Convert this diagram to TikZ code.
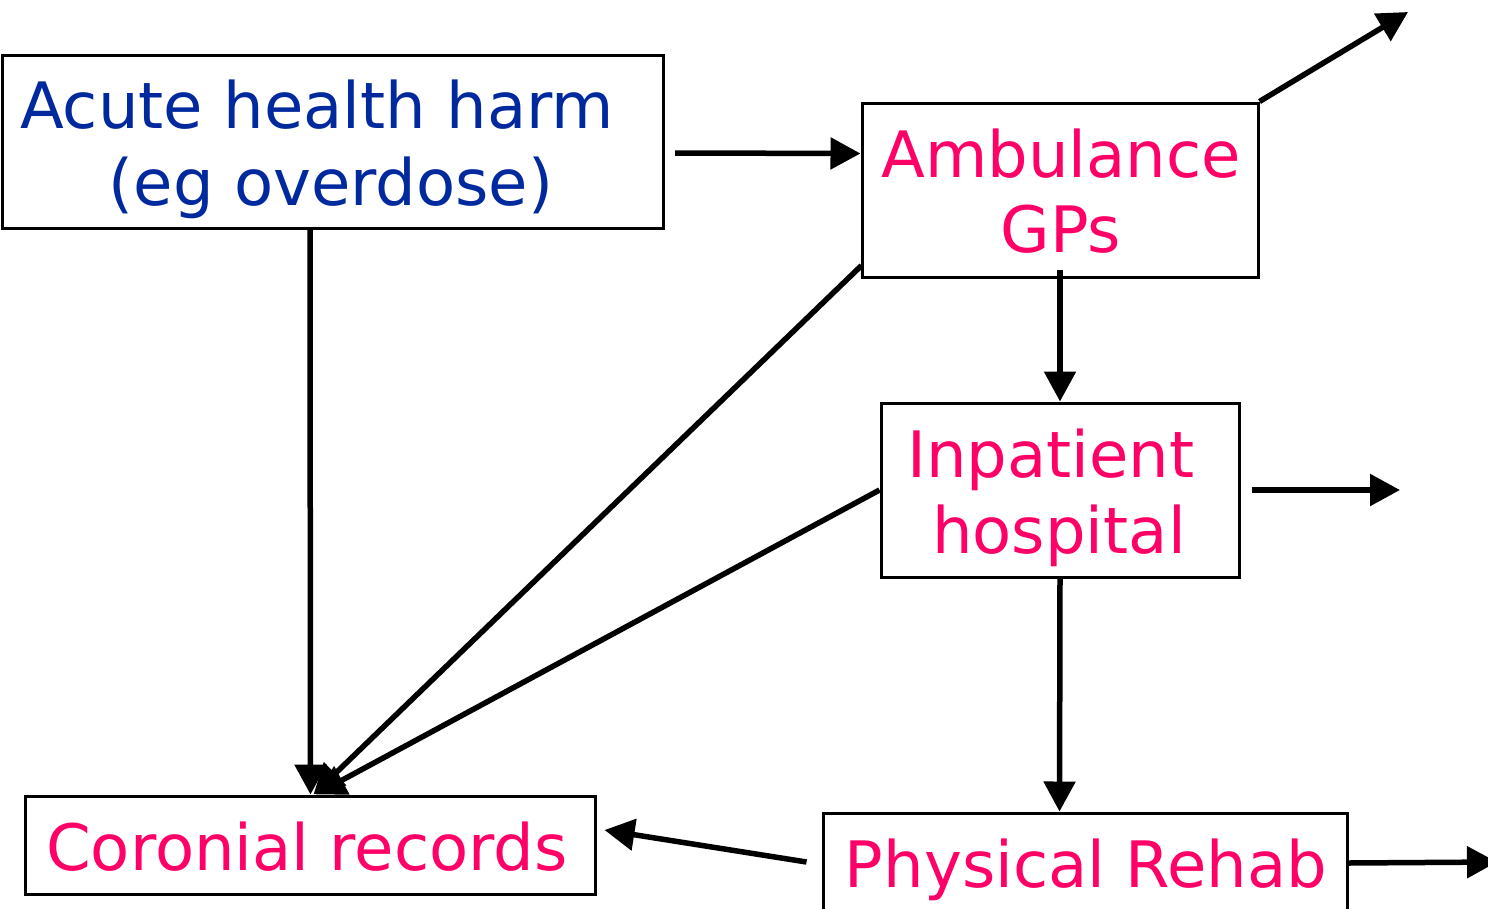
\documentclass[tikz,border=0pt]{standalone}
\usepackage{fontspec}
\setmainfont{DejaVu Sans}
\usetikzlibrary{arrows.meta,calc}
\definecolor{hblue}{RGB}{0,41,158}
\definecolor{hpink}{RGB}{255,0,102}
\begin{document}
\begin{tikzpicture}[x=1pt,y=-1pt,
  box/.style={draw,line width=3pt,rectangle,inner sep=0pt},
  lbl/.style={anchor=base,inner sep=0pt,font=\fontsize{64pt}{77pt}\selectfont},
  arr/.style={line width=5.5pt,-{Triangle[length=30pt,width=31pt]}}]
\path[use as bounding box,fill=white] (0,0) rectangle (1488,908);
\clip (0,0) rectangle (1488,908);
% boxes
\node[box,minimum width=661pt,minimum height=173pt] (acute) at (333,142) {};
\node[box,minimum width=396pt,minimum height=174pt] (amb) at (1060,190) {};
\node[box,minimum width=358pt,minimum height=174pt] (inp) at (1060,490) {};
\node[box,minimum width=570pt,minimum height=98pt] (cor) at (310,845) {};
\node[box,minimum width=524pt,minimum height=100pt] (reh) at (1085,863) {};
% texts
\node[lbl,text=hblue] (t1) at (317,128) {Acute health harm};
\node[lbl,text=hblue] (t2) at (331,205) {(eg overdose)};
\node[lbl,text=hpink] (t3) at (1061,177) {Ambulance};
\node[lbl,text=hpink] (t4) at (1061,252) {GPs};
\node[lbl,text=hpink] (t5) at (1051,477) {Inpatient};
\node[lbl,text=hpink] (t6) at (1059,553) {hospital};
\node[lbl,text=hpink] (t7) at (307,870) {Coronial records};
\node[lbl,text=hpink] (t8) at (1086,887) {Physical Rehab};
% free ends
\coordinate (o1) at (1408,12);
\coordinate (o2) at (1400,490);
\coordinate (o3) at (1497,862);
% connectors
\draw[arr] ($(acute.north east)+(10,99)$) -- ($(amb.north west)+(0,52)$);
\draw[arr] (amb.north east) -- (o1);
\draw[arr] ($(amb.south)+(0,-9)$) -- (inp.north);
\draw[arr] ($(acute.south west)+(309,0)$) -- ($(cor.north west)+(287,0)$);
\draw[arr] ($(amb.south west)+(1,-13)$) -- ($(cor.north west)+(290,0)$);
\draw[arr] (inp.west) -- ($(cor.north west)+(292,0)$);
\draw[arr] ($(inp.east)+(11,0)$) -- (o2);
\draw[arr] (inp.south) -- ($(reh.north west)+(238,0)$);
\draw[arr] ($(reh.west)+(-15,-1)$) -- ($(cor.east)+(8,-15)$);
\draw[arr] (reh.east) -- (o3);
\end{tikzpicture}
\end{document}
